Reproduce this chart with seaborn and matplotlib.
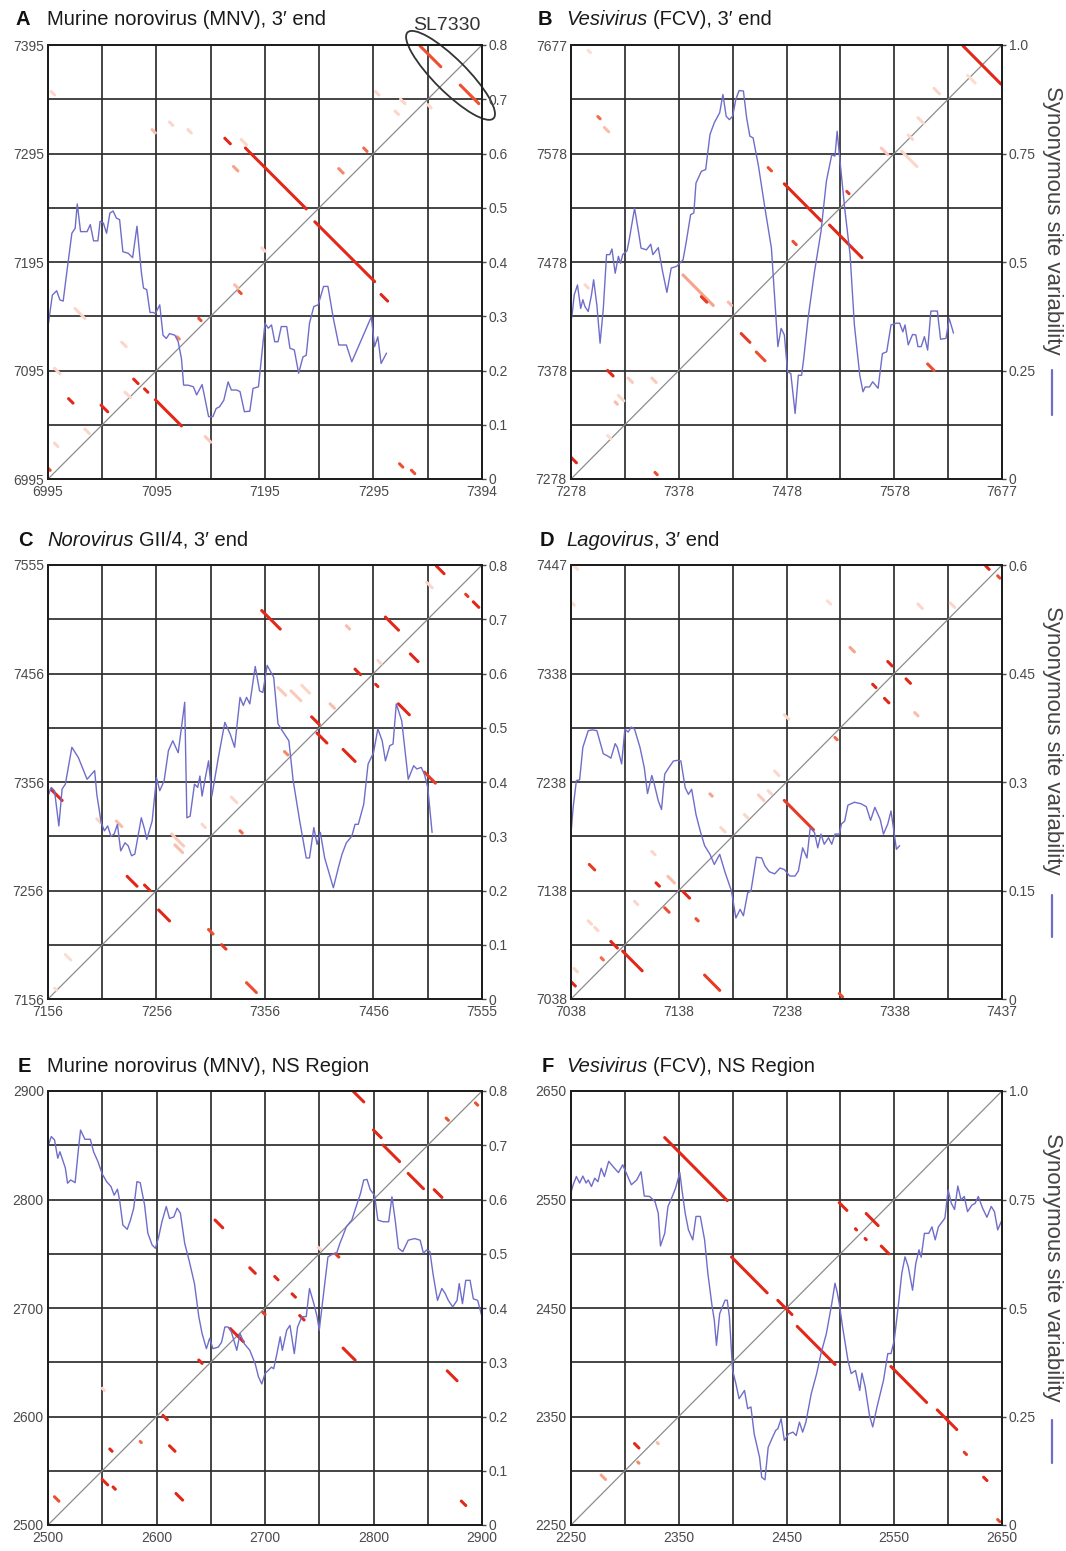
import numpy as np
import pandas as pd
import matplotlib
matplotlib.use("Agg")
import matplotlib.pyplot as plt
from matplotlib.colors import LinearSegmentedColormap
from matplotlib.patches import Ellipse
from matplotlib.lines import Line2D
import seaborn as sns

sns.set_theme(style="white")
plt.rcParams['font.family'] = ['Liberation Sans', 'DejaVu Sans']

# ---------------- Panel A : MNV 3' end ----------------
A_lo = 6995
A_xlabels = ["6995", "7095", "7195", "7295", "7394"]
A_ylabels = ["6995", "7095", "7195", "7295", "7395"]
A_var_x = [6995,6999,7003,7006,7009,7012,7017,7020,7022,7025,7031,7034,7037,7041,7043,7046,7049,7052,7055,7058,
           7061,7064,7069,7073,7077,7081,7083,7086,7089,7092,7094,7098,7101,7104,7107,7112,7115,7118,7120,7124,
           7129,7132,7137,7139,7143,7147,7150,7153,7157,7161,7164,7169,7172,7176,7181,7184,7189,7195,7198,7201,
           7204,7207,7210,7215,7218,7222,7226,7230,7233,7236,7240,7244,7249,7253,7258,7263,7270,7275,7293,7296,
           7299,7302,7307]
A_var_y = [0.281,0.339,0.347,0.330,0.328,0.376,0.453,0.462,0.507,0.456,0.456,0.469,0.439,0.439,0.475,0.472,0.453,0.490,0.494,0.481,
           0.478,0.419,0.416,0.408,0.466,0.382,0.352,0.349,0.307,0.307,0.305,0.321,0.265,0.259,0.268,0.265,0.253,0.222,0.173,0.173,
           0.170,0.155,0.174,0.155,0.115,0.115,0.130,0.133,0.145,0.179,0.164,0.164,0.161,0.124,0.125,0.167,0.170,0.287,0.278,0.284,
           0.253,0.253,0.281,0.281,0.241,0.238,0.195,0.225,0.228,0.287,0.318,0.321,0.355,0.355,0.296,0.247,0.247,0.216,0.299,0.244,
           0.262,0.213,0.232]
A_hx = [7177,7241,7302,7158,7074,7084,7094,7044,7014,7286,7263,7166,7134,7171,7114,7140,7338,7375,7319,7330,6995,
        7091,6998,7107,7124,7020,7029,7001,7173,7297,7320,7345,7315,7066,7167,7192,7001,7063]
A_hy = [7300,7232,7165,7309,7087,7078,7068,7063,7069,7300,7281,7283,7143,7168,7126,7034,7394,7358,7009,7003,7005,
        7317,7352,7324,7317,7152,7041,7028,7308,7352,7345,7340,7334,7075,7174,7208,7097,7121]
A_hn = [57,56,7,6,5,4,25,7,5,4,5,5,3,3,3,6,20,18,4,4,3,
        4,4,4,4,10,5,4,6,4,5,4,4,6,4,4,6,5]
A_hs = [1,1,1,1,1,1,1,1,1,0.7,0.6,0.5,0.8,0.8,0.6,0.35,0.8,0.8,0.8,0.8,0.8,
        0.4,0.3,0.3,0.3,0.3,0.3,0.3,0.3,0.3,0.3,0.3,0.3,0.3,0.4,0.3,0.3,0.3]

# ---------------- Panel B : FCV 3' end ----------------
B_lo = 7278
B_xlabels = ["7278", "7378", "7478", "7578", "7677"]
B_ylabels = ["7278", "7378", "7478", "7578", "7677"]
B_var_x = [7278,7279,7281,7284,7287,7289,7291,7294,7297,7299,7302,7305,7308,7311,7314,7316,7319,7322,7324,7326,
           7330,7332,7337,7341,7343,7348,7352,7354,7359,7363,7367,7371,7376,7382,7385,7389,7392,7394,7399,7403,
           7407,7411,7416,7419,7422,7425,7428,7431,7434,7438,7441,7444,7447,7452,7458,7464,7470,7473,7476,7479,
           7482,7486,7489,7492,7494,7498,7504,7510,7515,7520,7523,7525,7528,7532,7537,7541,7546,7549,7551,7555,
           7558,7563,7567,7571,7575,7580,7583,7586,7588,7591,7595,7598,7600,7603,7606,7609,7612,7618,7621,7626,
           7629,7633]
B_var_y = [0.363,0.378,0.424,0.447,0.393,0.413,0.397,0.386,0.424,0.459,0.401,0.313,0.393,0.517,0.517,0.530,0.474,0.513,0.497,0.517,
           0.526,0.551,0.624,0.564,0.532,0.528,0.541,0.517,0.533,0.478,0.430,0.486,0.490,0.505,0.547,0.609,0.613,0.682,0.709,0.713,
           0.794,0.821,0.844,0.886,0.836,0.828,0.836,0.875,0.895,0.894,0.832,0.790,0.786,0.721,0.624,0.532,0.305,0.347,0.332,0.247,
           0.243,0.151,0.239,0.239,0.278,0.370,0.478,0.570,0.686,0.747,0.744,0.801,0.724,0.624,0.517,0.355,0.239,0.201,0.212,0.212,
           0.224,0.209,0.289,0.293,0.355,0.359,0.359,0.339,0.355,0.309,0.333,0.332,0.305,0.305,0.328,0.297,0.387,0.387,0.322,0.324,
           0.370,0.336]
B_hx = [7642,7476,7518,7534,7461,7484,7382,7399,7436,7450,7312,7609,7278,7356,7303,7309,
        7566,7585,7615,7322,7331,7353,7319,7591,7600,7294,7646,7424,7291,7312]
B_hy = [7677,7550,7512,7543,7565,7497,7466,7446,7412,7395,7378,7384,7298,7284,7612,7602,
        7583,7580,7638,7355,7371,7371,7349,7595,7611,7673,7650,7441,7457,7318]
B_hn = [36,35,31,3,4,4,29,6,9,9,6,7,6,3,3,5,
        7,15,6,6,5,5,3,5,6,3,8,4,4,4]
B_hs = [1,1,1,0.9,0.8,0.8,0.5,0.9,0.9,0.8,1,0.8,1,0.8,0.7,0.4,
        0.35,0.3,0.3,0.3,0.35,0.35,0.4,0.3,0.3,0.25,0.25,0.4,0.3,0.25]

# ---------------- Panel C : Norovirus GII/4 3' end ----------------
C_lo = 7156
C_xlabels = ["7156", "7256", "7356", "7456", "7555"]
C_ylabels = ["7156", "7256", "7356", "7456", "7555"]
C_var_x = [7156,7159,7162,7166,7169,7172,7178,7184,7192,7199,7201,7205,7208,7211,7214,7217,7220,7223,7227,7230,
           7233,7236,7242,7245,7247,7252,7256,7259,7263,7267,7271,7276,7282,7284,7287,7291,7294,7296,7298,7301,
           7304,7307,7313,7319,7324,7328,7333,7336,7339,7342,7347,7351,7354,7358,7364,7368,7374,7378,7382,7388,
           7394,7397,7401,7404,7407,7411,7419,7424,7427,7431,7436,7439,7442,7447,7451,7456,7460,7464,7467,7471,
           7474,7477,7482,7488,7493,7496,7500,7503,7506,7510]
C_var_y = [0.374,0.390,0.384,0.319,0.387,0.396,0.464,0.445,0.405,0.421,0.377,0.325,0.310,0.319,0.300,0.304,0.322,0.273,0.288,0.282,
           0.264,0.267,0.334,0.313,0.294,0.328,0.408,0.384,0.402,0.458,0.476,0.454,0.547,0.334,0.337,0.396,0.390,0.411,0.374,0.408,
           0.439,0.374,0.445,0.510,0.488,0.464,0.556,0.541,0.556,0.544,0.613,0.568,0.565,0.615,0.593,0.507,0.488,0.476,0.402,0.328,
           0.260,0.260,0.316,0.285,0.307,0.260,0.205,0.245,0.267,0.288,0.300,0.322,0.322,0.359,0.433,0.454,0.498,0.476,0.439,0.467,
           0.470,0.544,0.513,0.405,0.430,0.424,0.427,0.414,0.390,0.307]
C_hx = [7514,7541,7548,7353,7467,7490,7431,7439,7458,7479,7399,7404,7428,7374,7503,7159,7229,7245,7258,7304,7316,7339,7333,
        7368,7380,7390,7270,7273,7219,7201,7416,7325,7298,7172,7162,7505,7460]
C_hy = [7555,7529,7522,7514,7508,7474,7500,7460,7446,7428,7416,7401,7386,7384,7365,7349,7269,7261,7238,7220,7206,7171,7311,
        7443,7440,7445,7308,7298,7320,7322,7428,7342,7317,7197,7166,7540,7468]
C_hn = [8,3,6,18,13,8,4,6,3,11,8,10,12,4,11,11,10,6,11,5,5,10,3,
        8,10,8,12,8,6,4,5,6,4,6,3,6,4]
C_hs = [1,0.9,1,1,1,1,0.4,1,1,1,1,1,1,0.6,0.9,1,1,1,1,0.8,0.9,0.8,0.7,
        0.35,0.35,0.3,0.35,0.4,0.4,0.3,0.4,0.3,0.3,0.25,0.25,0.3,0.3]

# ---------------- Panel D : Lagovirus 3' end ----------------
D_lo = 7038
D_xlabels = ["7038", "7138", "7238", "7338", "7437"]
D_ylabels = ["7038", "7138", "7238", "7338", "7447"]
D_var_x = [7038,7040,7043,7046,7049,7054,7058,7062,7068,7072,7075,7079,7081,7085,7088,7091,7094,7097,7102,7106,
           7109,7113,7115,7119,7122,7125,7128,7133,7137,7140,7144,7147,7150,7154,7158,7162,7167,7171,7176,7181,
           7187,7191,7195,7198,7202,7205,7210,7215,7218,7222,7227,7232,7236,7241,7246,7249,7253,7257,7260,7264,
           7267,7270,7273,7277,7280,7283,7287,7289,7292,7295,7301,7307,7312,7316,7320,7325,7328,7332,7335,7337,
           7340,7343]
D_var_y = [0.228,0.265,0.302,0.303,0.348,0.371,0.372,0.371,0.339,0.336,0.333,0.353,0.348,0.325,0.373,0.369,0.376,0.373,0.348,0.320,
           0.284,0.309,0.299,0.274,0.262,0.311,0.318,0.329,0.330,0.329,0.292,0.283,0.290,0.255,0.232,0.212,0.200,0.186,0.200,0.175,
           0.149,0.112,0.124,0.115,0.147,0.149,0.196,0.195,0.184,0.176,0.173,0.181,0.179,0.170,0.170,0.177,0.209,0.195,0.237,0.230,
           0.209,0.228,0.214,0.223,0.214,0.228,0.228,0.242,0.246,0.268,0.272,0.270,0.266,0.247,0.265,0.248,0.228,0.242,0.260,0.239,
           0.207,0.212]
D_hx = [7423,7434,7332,7349,7318,7329,7297,7357,7283,7236,7167,7055,7117,7128,7142,7125,7154,7075,7086,7066,7162,7038,7287,
        7041,7038,7360,7390,7276,7221,7199,7212,7227,7177,7113,7097,7054,7060,7041,7236]
D_hy = [7437,7428,7349,7333,7328,7315,7362,7302,7279,7221,7227,7162,7145,7151,7137,7122,7112,7091,7082,7076,7060,7054,7043,
        7437,7404,7402,7403,7405,7230,7208,7226,7248,7196,7174,7128,7110,7104,7066,7300]
D_hn = [4,3,5,5,4,5,5,4,3,28,3,6,4,7,7,5,3,7,19,3,15,5,4,
        4,4,5,5,4,4,4,6,5,5,4,4,4,4,4,5]
D_hs = [1,0.8,1,1,1,1,0.5,0.4,0.7,0.9,0.5,0.9,1,0.4,1,0.8,0.8,1,1,0.7,0.9,1,0.8,
        0.25,0.25,0.3,0.3,0.25,0.3,0.3,0.35,0.3,0.3,0.3,0.3,0.3,0.3,0.3,0.3]

# ---------------- Panel E : MNV NS region ----------------
E_lo = 2500
E_xlabels = ["2500", "2600", "2700", "2800", "2900"]
E_ylabels = ["2500", "2600", "2700", "2800", "2900"]
E_var_x = [2500,2503,2506,2509,2511,2513,2516,2518,2521,2525,2528,2530,2534,2539,2542,2546,2550,2554,2558,2561,
           2564,2566,2569,2573,2576,2579,2582,2585,2589,2592,2596,2599,2602,2605,2609,2612,2616,2619,2622,2626,
           2630,2635,2639,2642,2646,2649,2652,2657,2660,2663,2666,2669,2674,2677,2681,2686,2691,2694,2697,2700,
           2706,2708,2711,2714,2716,2720,2723,2727,2730,2734,2738,2741,2745,2748,2750,2754,2758,2761,2766,2769,
           2772,2775,2780,2784,2788,2791,2794,2797,2801,2804,2809,2814,2817,2820,2823,2827,2832,2838,2843,2846,
           2849,2852,2855,2859,2863,2866,2869,2873,2877,2879,2882,2885,2889,2892,2896,2900]
E_var_y = [0.698,0.716,0.710,0.676,0.688,0.676,0.658,0.630,0.636,0.631,0.692,0.728,0.711,0.711,0.688,0.670,0.647,0.633,0.624,0.608,
           0.619,0.599,0.553,0.545,0.562,0.584,0.633,0.631,0.590,0.538,0.516,0.510,0.531,0.559,0.587,0.565,0.568,0.584,0.575,0.519,
           0.488,0.445,0.384,0.353,0.325,0.344,0.325,0.328,0.337,0.365,0.365,0.356,0.322,0.353,0.334,0.322,0.297,0.273,0.260,0.279,
           0.291,0.288,0.316,0.347,0.322,0.359,0.368,0.316,0.365,0.384,0.384,0.436,0.408,0.384,0.359,0.427,0.494,0.498,0.501,0.519,
           0.534,0.550,0.562,0.587,0.611,0.636,0.637,0.618,0.608,0.562,0.559,0.559,0.605,0.562,0.510,0.504,0.525,0.528,0.525,0.501,
           0.507,0.504,0.461,0.414,0.436,0.427,0.414,0.402,0.414,0.445,0.408,0.451,0.451,0.417,0.414,0.384]
E_hx = [2781,2894,2867,2800,2809,2832,2856,2654,2765,2686,2709,2725,2732,2698,2668,2772,2639,2868,2550,2606,2585,2557,
        2612,2550,2560,2618,2506,2881,2749]
E_hy = [2900,2889,2875,2864,2850,2824,2809,2781,2750,2737,2729,2713,2693,2696,2681,2663,2652,2642,2626,2601,2577,2570,
        2573,2542,2535,2529,2526,2522,2756]
E_hn = [11,3,3,8,16,15,8,8,4,6,4,4,5,3,13,12,4,10,3,5,2,3,
        6,6,3,7,5,5,3]
E_hs = [1,0.8,0.8,1,1,1,1,1,0.9,1,1,1,1,0.9,1,1,1,1,0.3,1,0.7,1,
        1,1,1,1,0.8,1,0.3]

# ---------------- Panel F : FCV NS region ----------------
F_lo = 2250
F_xlabels = ["2250", "2350", "2450", "2550", "2650"]
F_ylabels = ["2250", "2350", "2450", "2550", "2650"]
F_var_x = [2250,2252,2255,2258,2261,2264,2266,2269,2272,2275,2278,2281,2285,2289,2294,2298,2302,2306,2311,2315,
           2318,2323,2328,2331,2333,2337,2340,2344,2347,2351,2353,2356,2359,2363,2366,2370,2374,2377,2381,2383,
           2385,2388,2393,2395,2397,2400,2403,2406,2411,2414,2417,2420,2425,2427,2430,2433,2437,2440,2442,2445,
           2448,2452,2456,2459,2462,2465,2468,2473,2478,2482,2487,2492,2495,2497,2499,2502,2507,2510,2514,2518,
           2520,2523,2527,2530,2534,2540,2544,2547,2550,2554,2557,2560,2563,2567,2570,2573,2575,2578,2582,2585,
           2588,2591,2594,2597,2600,2603,2606,2609,2612,2615,2618,2622,2625,2628,2632,2636,2640,2643,2646,2650]
F_var_y = [0.766,0.784,0.803,0.788,0.804,0.788,0.795,0.780,0.799,0.791,0.822,0.803,0.838,0.826,0.812,0.830,0.807,0.784,0.795,0.814,
           0.758,0.757,0.745,0.718,0.643,0.672,0.734,0.757,0.776,0.812,0.772,0.718,0.680,0.657,0.711,0.711,0.657,0.580,0.503,0.472,
           0.414,0.487,0.518,0.518,0.480,0.356,0.326,0.291,0.310,0.268,0.272,0.210,0.156,0.110,0.104,0.179,0.202,0.218,0.222,0.245,
           0.195,0.210,0.214,0.206,0.237,0.214,0.237,0.303,0.349,0.395,0.441,0.510,0.557,0.537,0.510,0.457,0.380,0.349,0.356,0.310,
           0.350,0.318,0.253,0.226,0.272,0.333,0.395,0.395,0.426,0.510,0.580,0.618,0.595,0.541,0.603,0.634,0.617,0.672,0.672,0.687,
           0.657,0.687,0.697,0.707,0.772,0.741,0.727,0.781,0.749,0.757,0.722,0.737,0.741,0.757,0.730,0.709,0.734,0.722,0.680,0.703]
F_hx = [2337,2399,2442,2460,2547,2590,2615,2633,2646,2499,2524,2514,2523,2538,2309,2312,2278,2330]
F_hy = [2607,2497,2457,2433,2396,2356,2317,2294,2255,2547,2537,2523,2514,2507,2325,2308,2296,2326]
F_hn = [59,34,14,36,34,19,3,4,3,8,12,2,2,8,5,2,5,2]
F_hs = [1,1,1,1,1,1,0.9,1,0.8,1,1,1,1,1,1,0.6,0.5,0.4]

# right-hand (variability) axis ticks
R8_vals = [0, 0.1, 0.2, 0.3, 0.4, 0.5, 0.6, 0.7, 0.8]
R8_labels = ["0", "0.1", "0.2", "0.3", "0.4", "0.5", "0.6", "0.7", "0.8"]
R10_vals = [0, 0.25, 0.5, 0.75, 1.0]
R10_labels = ["0", "0.25", "0.5", "0.75", "1.0"]
R6_vals = [0, 0.15, 0.3, 0.45, 0.6]
R6_labels = ["0", "0.15", "0.3", "0.45", "0.6"]

TITLES = {
    "A": [("Murine norovirus (MNV), 3\u2032 end", "normal", 0)],
    "B": [("Vesivirus", "italic", 0), ("(FCV), 3\u2032 end", "normal", 1)],
    "C": [("Norovirus", "italic", 0), ("GII/4, 3\u2032 end", "normal", 1)],
    "D": [("Lagovirus", "italic", 0), (", 3\u2032 end", "normal", 0)],
    "E": [("Murine norovirus (MNV), NS Region", "normal", 0)],
    "F": [("Vesivirus", "italic", 0), ("(FCV), NS Region", "normal", 1)],
}

# ---------------- drawing ----------------
W, H = 1066, 1551
fig = plt.figure(figsize=(W / 100, H / 100), dpi=100)
renderer = fig.canvas.get_renderer()

BLUE = "#6f6dca"
GRID = "#2e2e2e"
TICKC = "#4a4a4a"
cmap = LinearSegmentedColormap.from_list(
    "rp", [(0.0, "#ffffff"), (0.3, "#fcd6c9"), (0.5, "#f7a48b"), (0.8, "#ee4f31"), (1.0, "#e3281a")])

def ax_rect(left_px, top_px, w_px, h_px):
    return [left_px / W, 1 - (top_px + h_px) / H, w_px / W, h_px / H]

def draw_panel(rect, lo, xlabels, ylabels, hx, hy, hn, hs, vx, vy, rvals, rlabels):
    ax = fig.add_axes(rect)
    rows = []
    for x0, y0, n, s in zip(hx, hy, hn, hs):
        for k in range(n):
            rows.append((x0 + k, y0 - k, s))
    df = pd.DataFrame(rows, columns=["i", "j", "p"]).sort_values("p")
    span = 400
    for k in range(1, 8):
        ax.axvline(lo + 50 * k, color=GRID, lw=1.25, zorder=1)
        ax.axhline(lo + 50 * k, color=GRID, lw=1.25, zorder=1)
    ax.plot([lo, lo + span], [lo, lo + span], color="#8c8c8c", lw=0.9, zorder=2)
    sns.scatterplot(data=df, x="i", y="j", hue="p", palette=cmap, hue_norm=(0, 1),
                    s=5, linewidth=0, legend=False, ax=ax, zorder=3)
    ax.set_xlim(lo, lo + span)
    ax.set_ylim(lo, lo + span)
    ticks = [lo + 100 * k for k in range(5)]
    ax.set_xticks(ticks)
    ax.set_xticklabels(xlabels)
    ax.set_yticks(ticks)
    ax.set_yticklabels(ylabels)
    ax.set_xlabel("")
    ax.set_ylabel("")
    ax.tick_params(axis="both", length=0, labelsize=10, colors=TICKC)
    ax.tick_params(axis="x", pad=4)
    ax.tick_params(axis="y", pad=3)
    ax2 = ax.twinx()
    vdf = pd.DataFrame({"x": vx, "v": vy})
    sns.lineplot(data=vdf, x="x", y="v", ax=ax2, color=BLUE, lw=1.0, sort=False, estimator=None)
    ax2.set_ylim(0, rvals[-1])
    ax2.set_yticks(rvals)
    ax2.set_yticklabels(rlabels)
    ax2.set_ylabel("")
    ax2.tick_params(axis="y", length=3, width=1, pad=2, labelsize=10, colors=TICKC, direction="out")
    for a in (ax, ax2):
        for sp in a.spines.values():
            sp.set_color("#1e1e1e")
            sp.set_linewidth(1.4)
            sp.set_visible(True)
    return ax, ax2

def title(letter, letter_x, text_x, base_y):
    fig.text(letter_x / W, 1 - base_y / H, letter, fontsize=14.5, fontweight="bold",
             color="#111111", va="baseline", ha="left")
    x = text_x
    space = 0.278 * 14.5 * 100 / 72
    for s, st, gap in TITLES[letter]:
        x += gap * space
        t = fig.text(x / W, 1 - base_y / H, s, fontsize=14.5, style=st, color="#1a1a1a",
                     va="baseline", ha="left")
        x += t.get_window_extent(renderer).width

panels = [
    ("A", ax_rect(48, 45, 434, 434), A_lo, A_xlabels, A_ylabels, A_hx, A_hy, A_hn, A_hs, A_var_x, A_var_y, R8_vals, R8_labels),
    ("B", ax_rect(571, 45, 431, 434), B_lo, B_xlabels, B_ylabels, B_hx, B_hy, B_hn, B_hs, B_var_x, B_var_y, R10_vals, R10_labels),
    ("C", ax_rect(48, 565, 434, 434), C_lo, C_xlabels, C_ylabels, C_hx, C_hy, C_hn, C_hs, C_var_x, C_var_y, R8_vals, R8_labels),
    ("D", ax_rect(571, 565, 431, 434), D_lo, D_xlabels, D_ylabels, D_hx, D_hy, D_hn, D_hs, D_var_x, D_var_y, R6_vals, R6_labels),
    ("E", ax_rect(48, 1091, 434, 434), E_lo, E_xlabels, E_ylabels, E_hx, E_hy, E_hn, E_hs, E_var_x, E_var_y, R8_vals, R8_labels),
    ("F", ax_rect(571, 1091, 431, 434), F_lo, F_xlabels, F_ylabels, F_hx, F_hy, F_hn, F_hs, F_var_x, F_var_y, R10_vals, R10_labels),
]

axes = {}
for p in panels:
    axes[p[0]] = draw_panel(*p[1:])

# titles
title("A", 16, 47, 25)
title("B", 538, 566, 25)
title("C", 18, 47, 546)
title("D", 540, 566, 546)
title("E", 18, 47, 1072)
title("F", 542, 566, 1072)

# SL7330 annotation in panel A
axA = axes["A"][0]
axA.add_patch(Ellipse((7366, 7367), width=112, height=30, angle=-45, fill=False,
                      ec="#333333", lw=1.3, clip_on=False, zorder=6))
axA.text(7363, 7409, "SL7330", fontsize=14, color="#333333", ha="center", va="baseline",
         clip_on=False, zorder=6)

# right-side axis labels with legend stroke
for (cy, l0, l1) in [(220, 370, 415), (740, 895, 937), (1267, 1420, 1463)]:
    fig.text(1052 / W, 1 - cy / H, "Synonymous site variability", rotation=-90, fontsize=16,
             color="#444444", ha="center", va="center")
    fig.add_artist(Line2D([1052 / W, 1052 / W], [1 - l0 / H, 1 - l1 / H],
                          transform=fig.transFigure, color=BLUE, lw=1.6))

fig.savefig("out.png", dpi=100, facecolor="white")
